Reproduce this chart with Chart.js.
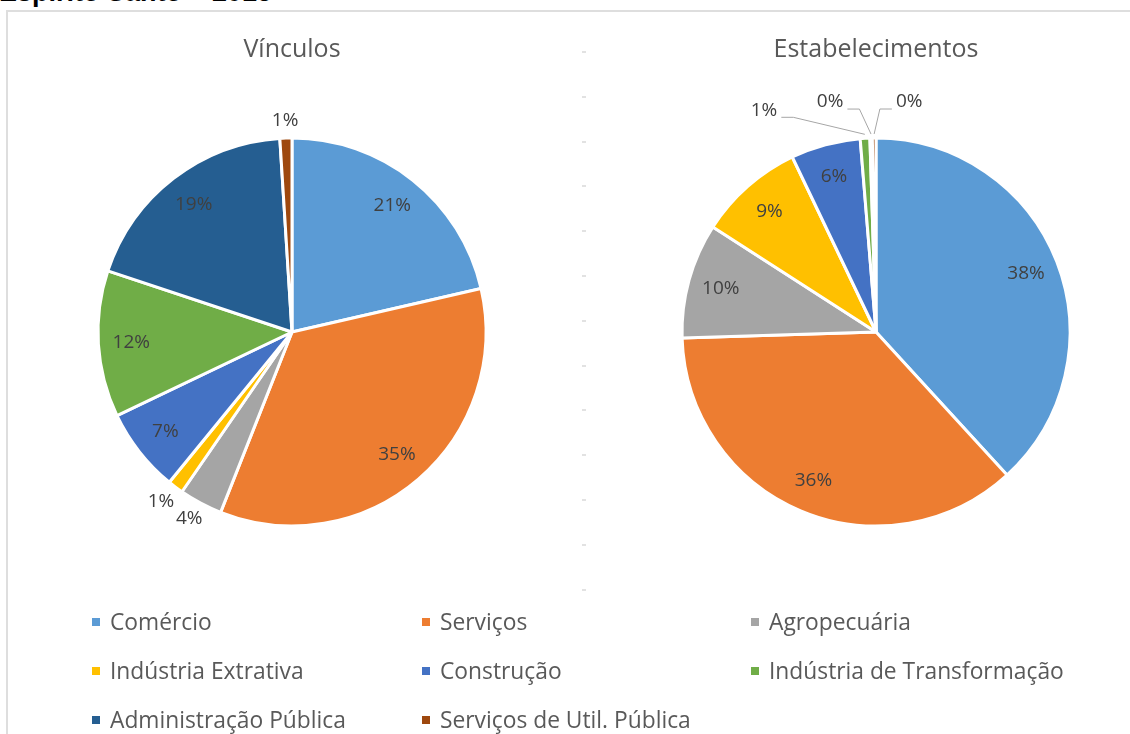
<!DOCTYPE html>
<html>
<head>
<meta charset="utf-8">
<script src="https://cdn.jsdelivr.net/npm/chart.js@4"></script>
<style>
  html, body { margin: 0; padding: 0; background: #fff; }
  body { width: 1130px; height: 734px; overflow: hidden; position: relative; font-family: "Open Sans", sans-serif; }
  #heading { position: absolute; left: -1px; top: -21px; font: bold 27px/27px "Liberation Sans", Arial, sans-serif; color: #000; white-space: nowrap; }
  #frame { position: absolute; left: 6px; top: 10px; width: 1200px; height: 800px; border: 2px solid #dedede; }
  #divider { position: absolute; left: 582px; top: 51px; width: 4px; height: 545px;
    background: repeating-linear-gradient(to bottom, #e2e2e2 0 2px, transparent 2px 44.8px); }
  .box { position: absolute; top: 0; width: 584px; height: 600px; }
  #legend { position: absolute; left: 92px; top: 597px; display: grid;
    grid-template-columns: 330px 329px auto; grid-auto-rows: 49px; }
  .item { display: flex; align-items: center; font-size: 22.8px; color: #595959; white-space: nowrap; }
  .sw { width: 8px; height: 8px; margin-right: 10px; flex: none; }
</style>
</head>
<body>
<div id="heading">Espírito Santo – 2015</div>
<div id="frame"></div>
<div id="divider"></div>
<div class="box" style="left:0"><canvas id="vinculos"></canvas></div>
<div class="box" style="left:584px"><canvas id="estab"></canvas></div>
<div id="legend"></div>
<script>
const categories = ['Comércio', 'Serviços', 'Agropecuária', 'Indústria Extrativa', 'Construção',
  'Indústria de Transformação', 'Administração Pública', 'Serviços de Util. Pública'];
const vinculos = [21.4, 34.6, 3.6, 1.3, 7.0, 12.2, 18.9, 1.0];
const estabelecimentos = [38.2, 36.3, 9.6, 8.8, 5.8, 0.8, 0.2, 0.3];
const colors = ['#5B9BD5', '#ED7D31', '#A5A5A5', '#FFC000', '#4472C4', '#70AD47', '#255E91', '#9E480E'];

// percent labels: inside, pushed outside for small slices, or callouts with leader lines
const pctLabels = {
  id: 'pctLabels',
  afterDatasetsDraw(chart, args, opts) {
    const ctx = chart.ctx;
    const meta = chart.getDatasetMeta(0);
    const values = chart.data.datasets[0].data;
    const total = values.reduce((a, b) => a + b, 0);
    ctx.save();
    ctx.font = '19px "Open Sans"';
    ctx.fillStyle = '#404040';
    ctx.textAlign = 'center';
    ctx.textBaseline = 'middle';
    meta.data.forEach((arc, i) => {
      const p = arc.getProps(['x', 'y', 'startAngle', 'endAngle', 'outerRadius'], true);
      const mid = (p.startAngle + p.endAngle) / 2;
      const c = Math.cos(mid), s = Math.sin(mid);
      const pct = values[i] / total * 100;
      const text = Math.round(pct) + '%';
      const w = ctx.measureText(text).width;
      const h = 14;
      const ex = p.x + p.outerRadius * c, ey = p.y + p.outerRadius * s;
      const co = opts.callouts && opts.callouts[i];
      if (co) {
        const lx = ex + co[0], ly = ey + co[1];
        ctx.fillText(text, lx, ly);
        const dir = lx < ex ? 1 : -1;
        const sx = lx + dir * (w / 2 + 4), sy = ly + 7;
        ctx.beginPath();
        ctx.strokeStyle = '#a6a6a6';
        ctx.lineWidth = 1;
        ctx.moveTo(sx, sy);
        ctx.lineTo(sx + dir * 12, sy);
        ctx.lineTo(p.x + (p.outerRadius + 4) * c, p.y + (p.outerRadius + 4) * s);
        ctx.stroke();
      } else if (pct < opts.insideMin) {
        const r = p.outerRadius + 11;
        ctx.fillText(text, p.x + r * c + c * w / 2, p.y + r * s + s * h / 2);
      } else {
        const r = p.outerRadius * 0.83;
        ctx.fillText(text, p.x + r * c, p.y + r * s);
      }
    });
    ctx.restore();
  }
};

function makePie(id, title, data, labelOpts) {
  return new Chart(document.getElementById(id), {
    type: 'pie',
    data: {
      labels: categories,
      datasets: [{ data, backgroundColor: colors, borderColor: '#ffffff', borderWidth: 3 }]
    },
    options: {
      responsive: true,
      maintainAspectRatio: false,
      animation: false,
      radius: 194,
      layout: { padding: { bottom: 6 } },
      plugins: {
        legend: { display: false },
        tooltip: { enabled: false },
        title: {
          display: true, text: title, color: '#595959',
          font: { family: 'Open Sans', size: 25, weight: 'normal' },
          padding: { top: 35, bottom: 5 }
        },
        pctLabels: labelOpts
      }
    },
    plugins: [pctLabels]
  });
}

makePie('vinculos', 'Vínculos', vinculos, { insideMin: 5 });
makePie('estab', 'Estabelecimentos', estabelecimentos, {
  insideMin: 0,
  callouts: { 5: [-101, -28], 6: [-41, -36], 7: [35, -36] }
});

const legend = document.getElementById('legend');
categories.forEach((name, i) => {
  const item = document.createElement('div');
  item.className = 'item';
  item.innerHTML = `<span class="sw" style="background:${colors[i]}"></span>${name}`;
  legend.appendChild(item);
});
</script>
</body>
</html>
